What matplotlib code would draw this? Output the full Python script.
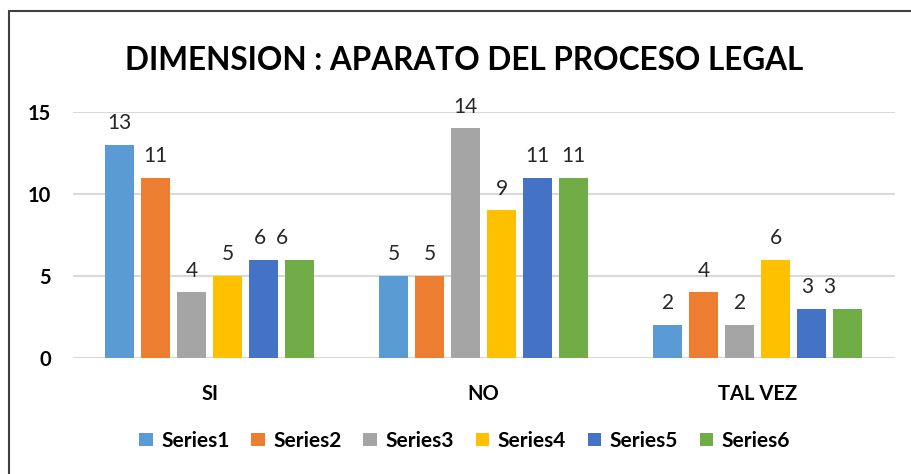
import matplotlib
matplotlib.use('Agg')
import matplotlib.pyplot as plt
import numpy as np
from matplotlib.patches import Rectangle

categories = ['SI', 'NO', 'TAL VEZ']
series_names = ['Series1', 'Series2', 'Series3', 'Series4', 'Series5', 'Series6']
series1 = [13, 5, 2]
series2 = [11, 5, 4]
series3 = [4, 14, 2]
series4 = [5, 9, 6]
series5 = [6, 11, 3]
series6 = [6, 11, 3]
all_series = [series1, series2, series3, series4, series5, series6]
colors = ['#5B9BD5', '#ED7D31', '#A5A5A5', '#FFC000', '#4472C4', '#70AD47']

plt.rcParams['font.family'] = ['Lato', 'DejaVu Sans']

fig = plt.figure(figsize=(9.11, 4.74), dpi=100)
ax = fig.add_axes([0.080, 0.2447, 0.902, 0.519])

x = np.arange(len(categories))
width = 0.106
step = 0.1315
for i, (vals, name, c) in enumerate(zip(all_series, series_names, colors)):
    off = (i - 2.5) * step
    bars = ax.bar(x + off, vals, width, color=c, label=name, zorder=3)
    for j, (b, v) in enumerate(zip(bars, vals)):
        # labels of series5/6 sit close together where the bars are equal and low
        dx = 0
        if i == 4 and j != 1:
            dx = -3
        if i == 5 and j != 1:
            dx = -13
        ax.annotate(str(v), (b.get_x() + b.get_width() / 2, v),
                    xytext=(dx, 8.5), textcoords='offset points',
                    ha='center', va='bottom', fontsize=15, color='#262626',
                    annotation_clip=False)

ax.set_xlim(-0.5, 2.5)
ax.set_ylim(0, 15)
ax.set_yticks([0, 5, 10, 15])
ax.yaxis.grid(True, color='#D9D9D9', linewidth=1.5, zorder=0)
ax.set_xticks(x)
ax.set_xticklabels(categories, fontsize=14.5, fontweight='bold')
ax.tick_params(axis='both', length=0, colors='black')
ax.tick_params(axis='y', labelsize=14.5, pad=16)
ax.tick_params(axis='x', pad=19)
for lab in ax.get_yticklabels():
    lab.set_fontweight('bold')
for s in ax.spines.values():
    s.set_visible(False)

fig.text(0.51, 0.873, 'DIMENSION : APARATO DEL PROCESO LEGAL',
         ha='center', va='center', fontsize=22.7, fontweight='bold')

leg = fig.legend(loc='center', bbox_to_anchor=(0.51, 0.07), ncol=6, frameon=False,
                 prop={'weight': 'bold', 'size': 15}, handlelength=0.65,
                 handleheight=0.65, handletextpad=0.4, columnspacing=1.05)

fig.patches.append(Rectangle((9 / 911, -0.1), 1.2, 1 - 11 / 474 + 0.1,
                             transform=fig.transFigure, fill=False,
                             edgecolor='#404040', linewidth=1.5))

fig.savefig('out.png', dpi=100)
